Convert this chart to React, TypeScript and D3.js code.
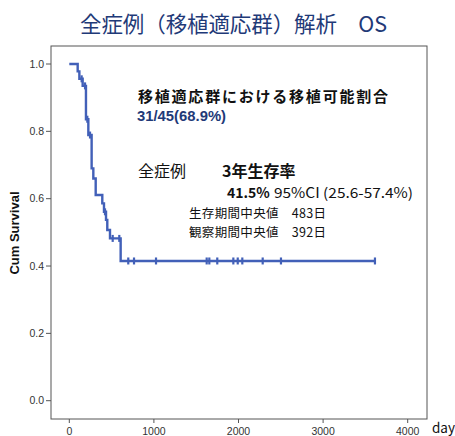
import React from "react";
import * as d3 from "d3";

// Kaplan-Meier steps
const eventDays = [99, 119, 158, 197, 225, 264, 284, 312, 390, 410, 434, 449, 481, 607];
const survivalAfter = [0.978, 0.956, 0.935, 0.836, 0.789, 0.69, 0.66, 0.611, 0.586, 0.561, 0.537, 0.507, 0.482, 0.415];
const censorDays = [146, 186, 213, 245, 422, 513, 591, 697, 765, 1025, 1624, 1655, 1749, 1939, 1991, 2045, 2286, 2502, 3613];
const lastDay = 3613;

const xTicks = [0, 1000, 2000, 3000, 4000];
const yTicks = [0, 0.2, 0.4, 0.6, 0.8, 1.0];

const W = 455;
const H = 436;
const frame = { left: 51, top: 46, right: 427, bottom: 419 };

const blue = "#4260b8";
const navy = "#1f3a78";
const jp = "'Noto Sans CJK JP', 'Noto Sans', sans-serif";
const latin = "'Liberation Sans', Arial, sans-serif";

function survivalAt(t: number) {
    let s = 1;
    for (let i = 0; i < eventDays.length; i++) if (eventDays[i] <= t) s = survivalAfter[i];
    return s;
}

export default function App() {
    const x = d3.scaleLinear().domain([0, 4000]).range([69.3, 407.7]);
    const y = d3.scaleLinear().domain([0, 1]).range([400.7, 64]);

    const pts: [number, number][] = [[0, 1]];
    eventDays.forEach((d, i) => pts.push([d, survivalAfter[i]]));
    pts.push([lastDay, survivalAt(lastDay)]);

    const line = d3.line<[number, number]>()
        .x(d => x(d[0]))
        .y(d => y(d[1]))
        .curve(d3.curveStepAfter);

    return (
        <div style={{ position: "absolute", left: 0, top: 0 }}>
            <svg width={W} height={H} style={{ display: "block", background: "#fff" }}>
                <text x={80} y={32} fontFamily={jp} fontSize={21.5} fill={navy}
                    textLength={307} lengthAdjust="spacing">
                    全症例（移植適応群）解析　OS
                </text>

                <rect x={frame.left} y={frame.top} width={frame.right - frame.left} height={frame.bottom - frame.top}
                    fill="none" stroke="#555" strokeWidth={1} />

                {yTicks.map(t => (
                    <g key={t}>
                        <line x1={frame.left - 5} x2={frame.left} y1={y(t)} y2={y(t)} stroke="#555" />
                        <text x={frame.left - 7} y={y(t)} dy="0.35em" textAnchor="end" fontFamily={latin}
                            fontSize={10.5} fill="#333">{t.toFixed(1)}</text>
                    </g>
                ))}
                {xTicks.map(t => (
                    <g key={t}>
                        <line x1={x(t)} x2={x(t)} y1={frame.bottom} y2={frame.bottom + 4} stroke="#555" />
                        <text x={x(t)} y={435} textAnchor="middle" fontFamily={latin}
                            fontSize={10.5} fill="#333">{t}</text>
                    </g>
                ))}

                <text transform={`translate(19,233) rotate(-90)`} textAnchor="middle" fontFamily={latin}
                    fontWeight="bold" fontSize={13} fill="#111">Cum Survival</text>
                <text x={432} y={433} fontFamily={jp} fontSize={13.5} fill="#111">day</text>

                <path d={line(pts) ?? ""} fill="none" stroke={blue} strokeWidth={2.4} />
                {censorDays.map((d, i) => (
                    <g key={i}>
                        <line x1={x(d)} x2={x(d)} y1={y(survivalAt(d)) - 3.5} y2={y(survivalAt(d)) + 3.5}
                            stroke={blue} strokeWidth={2.2} />
                    </g>
                ))}

                <text x={138} y={102} fontFamily={jp} fontWeight="bold" fontSize={15} fill="#111"
                    textLength={250} lengthAdjust="spacing">移植適応群における移植可能割合</text>
                <text x={137} y={121} fontFamily={latin} fontWeight="bold" fontSize={14} fill={navy}
                    textLength={89} lengthAdjust="spacingAndGlyphs">31/45(68.9%)</text>

                <text x={138} y={177} fontFamily={jp} fontSize={16} fill="#111">全症例</text>
                <text x={222} y={177} fontFamily={jp} fontWeight="bold" fontSize={16} fill="#111">3年生存率</text>
                <text x={227} y={198} fontFamily={jp} fontWeight="bold" fontSize={14} fill="#111">41.5%</text>
                <text x={274} y={198} fontFamily={jp} fontSize={14} fill="#111"
                    textLength={139} lengthAdjust="spacingAndGlyphs">95%CI (25.6-57.4%)</text>
                <text x={189} y={218} fontFamily={jp} fontSize={12.5} fill="#111"
                    textLength={137} lengthAdjust="spacing">生存期間中央値　483日</text>
                <text x={189} y={237} fontFamily={jp} fontSize={12.5} fill="#111"
                    textLength={137} lengthAdjust="spacing">観察期間中央値　392日</text>
            </svg>
        </div>
    );
}
